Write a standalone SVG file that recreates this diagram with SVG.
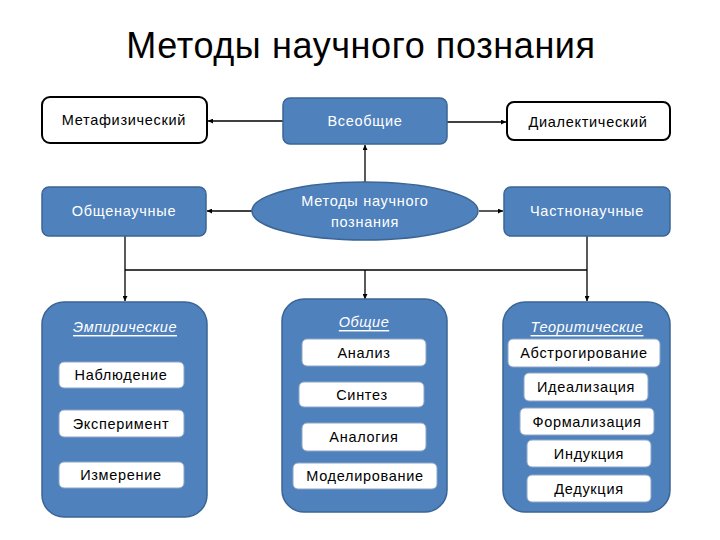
<svg xmlns="http://www.w3.org/2000/svg" width="720" height="540" viewBox="0 0 720 540">
<defs>
<marker id="arr" viewBox="0 0 10 10" refX="10" refY="5" markerWidth="5" markerHeight="5" orient="auto" markerUnits="userSpaceOnUse">
<path d="M0,0 L10,5 L0,10 z" fill="#000"/>
</marker>
</defs>
<style>
text{font-family:"Liberation Sans","Noto Sans",sans-serif;text-anchor:middle;dominant-baseline:central}
.title{font-size:36px;fill:#000;letter-spacing:0.6px}
.wb{fill:#fff;stroke:#000;stroke-width:2}
.bb{fill:#4f81bd;stroke:#3a6594;stroke-width:1.5}
.inner{fill:#fff;stroke:#8ea6c4;stroke-width:1}
.wt{font-size:14.5px;fill:#fff;letter-spacing:0.7px}
.bt{font-size:14.5px;fill:#000;letter-spacing:0.7px}
.ht{font-size:14.5px;fill:#fff;font-style:italic;text-decoration:underline;letter-spacing:0.5px}
.ln{stroke:#000;stroke-width:1.3;fill:none}
</style>
<rect width="720" height="540" fill="#fff"/>
<text class="title" x="361" y="45">Методы научного познания</text>

<g id="connectors">
<line class="ln" x1="283" y1="121" x2="208" y2="121" marker-end="url(#arr)"/>
<line class="ln" x1="447" y1="122" x2="506" y2="122" marker-end="url(#arr)"/>
<line class="ln" x1="365" y1="183" x2="365" y2="145" marker-end="url(#arr)"/>
<line class="ln" x1="252" y1="211" x2="207" y2="211" marker-end="url(#arr)"/>
<line class="ln" x1="479" y1="211" x2="503" y2="211" marker-end="url(#arr)"/>
<polyline class="ln" points="125,236 125,301" marker-end="url(#arr)"/>
<line class="ln" x1="125" y1="270" x2="587" y2="270"/>
<polyline class="ln" points="587,236 587,301" marker-end="url(#arr)"/>
<line class="ln" x1="365" y1="270" x2="365" y2="299" marker-end="url(#arr)"/>
</g>

<g id="metafiz"><rect class="wb" x="42" y="97" width="165" height="46" rx="8"/><text class="bt" x="124" y="120">Метафизический</text></g>
<g id="vseobshie"><rect class="bb" x="283" y="98" width="164" height="46" rx="7"/><text class="wt" x="365" y="121">Всеобщие</text></g>
<g id="dialekt"><rect class="wb" x="507" y="102" width="163" height="38" rx="7"/><text class="bt" x="588" y="122">Диалектический</text></g>

<g id="obshenauch"><rect class="bb" x="42" y="187" width="164" height="49" rx="7"/><text class="wt" x="124" y="211">Общенаучные</text></g>
<g id="center"><ellipse class="bb" cx="365" cy="211" rx="113" ry="29"/><text class="wt" x="365" y="201">Методы научного</text><text class="wt" x="365" y="222">познания</text></g>
<g id="chastnonauch"><rect class="bb" x="504" y="187" width="166" height="49" rx="7"/><text class="wt" x="587" y="211">Частнонаучные</text></g>

<g id="empir">
<rect class="bb" x="42" y="302" width="165" height="215" rx="22"/>
<text class="ht" x="125" y="327">Эмпирические</text>
<rect class="inner" x="59" y="362" width="125" height="26" rx="5"/><text class="bt" x="121" y="375">Наблюдение</text>
<rect class="inner" x="59" y="410" width="125" height="27" rx="5"/><text class="bt" x="121" y="424">Эксперимент</text>
<rect class="inner" x="59" y="462" width="125" height="26" rx="5"/><text class="bt" x="121" y="475">Измерение</text>
</g>

<g id="obshie">
<rect class="bb" x="282" y="299" width="165" height="213" rx="22"/>
<text class="ht" x="364" y="322">Общие</text>
<rect class="inner" x="302" y="339" width="124" height="27" rx="5"/><text class="bt" x="364" y="353">Анализ</text>
<rect class="inner" x="299" y="382" width="125" height="25" rx="5"/><text class="bt" x="362" y="395">Синтез</text>
<rect class="inner" x="302" y="423" width="124" height="28" rx="5"/><text class="bt" x="364" y="437">Аналогия</text>
<rect class="inner" x="293" y="463" width="144" height="26" rx="5"/><text class="bt" x="365" y="476">Моделирование</text>
</g>

<g id="teor">
<rect class="bb" x="503" y="302" width="167" height="210" rx="22"/>
<text class="ht" x="587" y="327">Теоритические</text>
<rect class="inner" x="508" y="339" width="152" height="28" rx="5"/><text class="bt" x="584" y="353">Абстрогирование</text>
<rect class="inner" x="524" y="373" width="124" height="28" rx="5"/><text class="bt" x="586" y="387">Идеализация</text>
<rect class="inner" x="520" y="408" width="134" height="27" rx="5"/><text class="bt" x="587" y="422">Формализация</text>
<rect class="inner" x="527" y="440" width="124" height="27" rx="5"/><text class="bt" x="589" y="454">Индукция</text>
<rect class="inner" x="527" y="475" width="124" height="27" rx="5"/><text class="bt" x="589" y="489">Дедукция</text>
</g>
</svg>
